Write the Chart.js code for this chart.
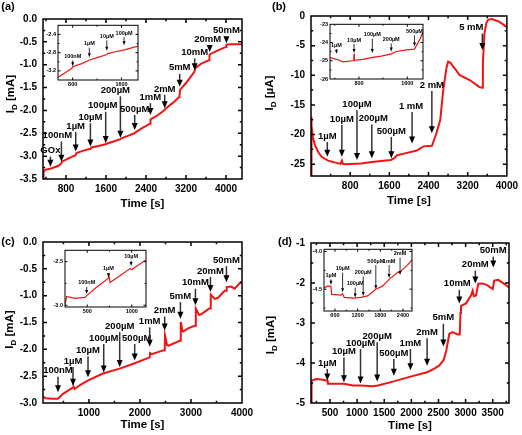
<!DOCTYPE html>
<html>
<head>
<meta charset="utf-8">
<script src="https://cdn.jsdelivr.net/npm/chart.js@4.4.1/dist/chart.umd.min.js"></script>
<style>
  body { margin: 0; background: #fff; overflow: hidden; }
  #wrap { position: relative; width: 522px; height: 435px; background: #fff; }
  canvas { position: absolute; }
</style>
</head>
<body>
<div id="wrap"></div>
<script>
// ---------- Data ----------
// (a) main trace, current in mA vs time in s
const aTime = [340,350,380,500,650,700,720,850,990,1010,1150,1290,1310,1450,1590,1610,1750,1890,1910,2050,2170,2190,2330,2480,2490,2500,2640,2770,2790,2930,3060,3070,3080,3200,3370,3380,3500,3660,3670,3680,3850,4000,4010,4100,4320];
const aCurrent = [-3.48,-3.35,-3.3,-3.27,-3.21,-3.17,-3.12,-3.05,-2.98,-2.93,-2.88,-2.84,-2.81,-2.78,-2.74,-2.73,-2.68,-2.63,-2.61,-2.55,-2.50,-2.48,-2.38,-2.29,-2.20,-2.19,-2.10,-1.99,-1.96,-1.84,-1.71,-1.68,-1.55,-1.40,-1.15,-1.08,-0.98,-0.90,-0.80,-0.77,-0.68,-0.61,-0.56,-0.55,-0.55];
const aArrowTime = [488,708,994,1288,1594,1888,2174,2488,2774,3074,3374,3674,4008];
const aArrowTip = [-3.23,-3.12,-2.90,-2.79,-2.71,-2.60,-2.43,-2.10,-1.95,-1.48,-1.12,-0.72,-0.53];
const aArrowTop = [-3.01,-2.68,-2.47,-2.28,-2.03,-1.69,-2.10,-1.84,-1.66,-1.20,-0.86,-0.57,-0.39];
const aArrowLabel = ['GOx','100nM','1µM','10µM','100µM','200µM','500µM','1mM','2mM','5mM','10mM','20mM','50mM'];
const aXTicks = [800,1600,2400,3200,4000];
const aYTicks = [0,-0.5,-1,-1.5,-2,-2.5,-3,-3.5];
// (a) inset
const aInTime = [565,700,784,800,950,1076,1200,1362,1370,1500,1645,1882];
const aInCurrent = [-3.34,-3.22,-3.15,-3.11,-3.04,-2.96,-2.91,-2.84,-2.82,-2.78,-2.74,-2.65];
const aInArrowTime = [801,1073,1359,1642];
const aInArrowTip = [-3.10,-2.90,-2.76,-2.64];
const aInArrowTop = [-2.97,-2.69,-2.53,-2.46];
const aInArrowLabel = ['100nM','1µM','10µM','100µM'];
const aInXTicks = [800,1600];
const aInYTicks = [-2.4,-2.8,-3.2];

// (b) main trace, current in µA
const bTime = [0,5,15,40,80,150,220,350,480,600,630,650,700,1020,1290,1630,1700,1760,1960,2160,2300,2470,2530,2560,2640,2700,2770,2800,2850,2910,3040,3240,3440,3498,3510,3540,3580,3620,3700,3850,4000];
const bCurrent = [-27,-17,-18.5,-20.5,-21.8,-23,-23.8,-24.4,-24.7,-24.95,-24.4,-24.95,-25.0,-24.9,-24.6,-24.3,-24.0,-23.5,-23.1,-22.7,-22.0,-21.9,-20.5,-19.8,-17.5,-12.5,-8.6,-7.7,-7.9,-8.6,-10.0,-10.8,-12.0,-12.1,-8,-3,-1.2,-0.6,-0.5,-1.0,-1.9];
const bArrowTime = [333,630,939,1242,1640,2064,2468,3499];
const bArrowTip = [-23.74,-23.74,-24.3,-24.0,-24.0,-21.5,-19.8,-5.74];
const bArrowTop = [-21.26,-18.4,-15.9,-18.3,-20.4,-16.2,-12.66,-2.99];
const bArrowLabel = ['1µM','10µM','100µM','200µM','500µM','1 mM','2 mM','5 mM'];
const bXTicks = [800,1600,2400,3200,4000];
const bYTicks = [0,-5,-10,-15,-20,-25];
// (b) inset
const bInTime = [320,427,536,701,712,718,724,866,1005,1170,1335,1418,1582,1719,1801,1860];
const bInCurrent = [-24.83,-24.92,-25.06,-25.0,-24.98,-24.62,-24.98,-24.92,-24.83,-24.75,-24.62,-24.49,-24.40,-24.36,-23.87,-23.45];
const bInArrowTime = [427,718,1021,1334,1719];
const bInArrowTip = [-24.61,-24.57,-24.57,-24.49,-24.22];
const bInArrowTop = [-24.36,-24.08,-23.79,-24.05,-23.61];
const bInArrowLabel = ['1µM','10µM','100µM','200µM','500µM'];
const bInXTicks = [800,1600];
const bInYTicks = [-23,-24,-25,-26];

// (c) main trace, mA
const cTime = [100,150,296,394,492,688,700,720,819,982,1276,1603,1897,2191,2200,2230,2453,2485,2492,2530,2560,2779,2793,2800,2830,2845,2943,3073,3087,3095,3160,3226,3357,3381,3388,3465,3530,3661,3695,3700,3790,3855,3953,4000];
const cCurrent = [-2.88,-2.91,-2.92,-2.92,-2.83,-2.71,-2.70,-2.74,-2.67,-2.58,-2.45,-2.36,-2.26,-2.15,-2.07,-2.09,-2.02,-2.02,-1.74,-1.92,-1.93,-1.84,-1.84,-1.49,-1.64,-1.67,-1.61,-1.56,-1.56,-1.24,-1.36,-1.33,-1.24,-1.24,-0.98,-1.06,-1.04,-0.91,-0.91,-0.84,-0.83,-0.87,-0.77,-0.75];
const cArrowTime = [394,688,982,1290,1603,1897,2191,2485,2793,3087,3381,3695];
const cArrowTip = [-2.80,-2.68,-2.52,-2.43,-2.33,-2.21,-1.95,-1.65,-1.43,-1.18,-0.93,-0.75];
const cArrowTop = [-2.51,-2.33,-2.13,-1.90,-1.68,-1.90,-1.59,-1.39,-1.12,-0.87,-0.65,-0.45];
const cArrowLabel = ['100nM','1µM','10µM','100µM','200µM','500µM','1mM','2mM','5mM','10mM','20mM','50mM'];
const cXTicks = [1000,2000,3000,4000];
const cYTicks = [0,-0.5,-1,-1.5,-2,-2.5,-3];
// (c) inset
const cInTime = [250,269,363,475,494,607,738,745,757,869,982,1001,1160];
const cInCurrent = [-2.99,-2.90,-2.92,-2.91,-2.89,-2.79,-2.69,-2.66,-2.74,-2.66,-2.58,-2.59,-2.48];
const cInArrowTime = [494,738,993];
const cInArrowTip = [-2.87,-2.68,-2.55];
const cInArrowTop = [-2.79,-2.63,-2.49];
const cInArrowLabel = ['100nM','1µM','10µM'];
const cInXTicks = [500,1000];
const cInYTicks = [-2.5,-3.0];

// (d) main trace, mA
const dTime = [150,152,168,247,370,450,460,616,757,923,1063,1291,1383,1677,1983,2290,2424,2517,2597,2645,2700,2762,2855,2892,2905,2915,3008,3100,3131,3150,3191,3234,3314,3406,3499,3528,3601,3712,3800];
const dCurrent = [-4.98,-4.6,-4.44,-4.40,-4.42,-4.44,-4.52,-4.52,-4.52,-4.56,-4.56,-4.58,-4.56,-4.46,-4.34,-4.23,-4.14,-4.06,-3.92,-3.68,-3.27,-3.23,-3.29,-3.29,-2.75,-2.57,-2.51,-2.31,-2.19,-2.33,-2.31,-2.02,-2.01,-2.06,-2.15,-1.94,-1.92,-2.02,-2.11];
const dArrowTime = [450,757,1063,1370,1677,1983,2290,2590,2884,3179,3510];
const dArrowTip = [-4.44,-4.48,-4.51,-4.46,-4.32,-4.18,-4.07,-3.59,-2.51,-2.01,-1.61];
const dArrowTop = [-4.15,-3.86,-3.65,-3.48,-3.90,-3.65,-3.38,-3.02,-2.17,-1.69,-1.34];
const dArrowLabel = ['1µM','10µM','100µM','200µM','500µM','1mM','2mM','5mM','10mM','20mM','50mM'];
const dXTicks = [500,1000,1500,2000,2500,3000,3500];
const dYTicks = [-1,-2,-3,-4,-5];
// (d) inset
const dInTime = [310,407,494,513,758,803,846,1100,1286,1463,1682,1859,2034,2255,2342,2518,2640];
const dInCurrent = [-4.48,-4.46,-4.46,-4.57,-4.58,-4.56,-4.61,-4.62,-4.61,-4.59,-4.50,-4.46,-4.37,-4.28,-4.26,-4.18,-4.11];
const dInArrowTime = [494,803,1136,1348,1682,2034,2324];
const dInArrowTip = [-4.44,-4.54,-4.61,-4.59,-4.50,-4.35,-4.31];
const dInArrowTop = [-4.37,-4.28,-4.48,-4.33,-4.18,-4.18,-4.08];
const dInArrowLabel = ['1µM','10µM','100µM','200µM','500µM','1mM','2mM'];
const dInXTicks = [600,1200,1800,2400];
const dInYTicks = [-4.0,-4.5];

// ---------- Style ----------
const FONT = "'Liberation Sans', Arial, sans-serif";
const RED = '#f01414';
const wrap = document.getElementById('wrap');

// majors plus half-step minors, within the axis range
function tickMarks(majors, min, max) {
  const s = Math.abs(majors[1] - majors[0]) / 2;
  const out = [];
  let v = Math.min(...majors);
  while (v - s >= min - 1e-9) v -= s;
  for (; v <= max + 1e-9; v += s) {
    out.push({ v, major: majors.some(m => Math.abs(m - v) < s * 0.01) });
  }
  return out;
}

function drawArrow(ctx, x, yTop, yTip, headW, headL) {
  ctx.beginPath();
  ctx.moveTo(x, yTop);
  ctx.lineTo(x, yTip - headL + 1);
  ctx.stroke();
  ctx.beginPath();
  ctx.moveTo(x - headW / 2, yTip - headL);
  ctx.lineTo(x + headW / 2, yTip - headL);
  ctx.lineTo(x, yTip);
  ctx.closePath();
  ctx.fill();
}

// frame, inward ticks, arrows + labels, titles
function overlay(p) {
  return {
    id: 'overlay',
    afterDraw(chart) {
      const { ctx, chartArea: a } = chart;
      const x = chart.scales.x, y = chart.scales.y;
      ctx.save();
      ctx.strokeStyle = '#000';
      ctx.lineWidth = p.frameW;
      ctx.strokeRect(a.left, a.top, a.right - a.left, a.bottom - a.top);

      tickMarks(p.xTicks, p.xMin, p.xMax).forEach(t => {
        const px = x.getPixelForValue(t.v);
        if (px < a.left + 1 || px > a.right - 1) return;
        const len = t.major ? p.tickL : p.tickL * 0.55;
        ctx.beginPath();
        ctx.moveTo(px, a.bottom); ctx.lineTo(px, a.bottom - len);
        ctx.moveTo(px, a.top); ctx.lineTo(px, a.top + len);
        ctx.stroke();
      });
      tickMarks(p.yTicks, p.yMin, p.yMax).forEach(t => {
        const py = y.getPixelForValue(t.v);
        if (py < a.top + 1 || py > a.bottom - 1) return;
        const len = t.major ? p.tickL : p.tickL * 0.55;
        ctx.beginPath();
        ctx.moveTo(a.left, py); ctx.lineTo(a.left + len, py);
        ctx.moveTo(a.right, py); ctx.lineTo(a.right - len, py);
        ctx.stroke();
      });

      // arrows
      ctx.strokeStyle = '#333';
      ctx.fillStyle = '#000';
      ctx.lineWidth = p.arrowW;
      ctx.font = `bold ${p.labelSize}px ${FONT}`;
      ctx.textAlign = 'center';
      ctx.textBaseline = 'middle';
      p.arrowTime.forEach((t, i) => {
        const px = x.getPixelForValue(t);
        const yTop = y.getPixelForValue(p.arrowTop[i]);
        const yTip = y.getPixelForValue(p.arrowTip[i]);
        drawArrow(ctx, px, yTop, yTip, p.headW, p.headL);
        const lab = p.arrowLabel[i];
        ctx.fillText(lab, px + ((p.shift || {})[lab] || 0), yTop - p.labelGap);
      });

      if (p.letter) {
        ctx.font = `bold 11px ${FONT}`;
        ctx.textAlign = 'center';
        ctx.fillText(p.letter[0], p.letter[1], p.letter[2]);

        // x title
        ctx.font = `bold 11.5px ${FONT}`;
        ctx.fillText('Time [s]', (a.left + a.right) / 2, a.bottom + p.xTitleGap);

        // y title with subscript, rotated
        const cy = (a.top + a.bottom) / 2 + p.yTitleDy;
        ctx.translate(p.yTitleX, cy);
        ctx.rotate(-Math.PI / 2);
        const big = `bold 11.5px ${FONT}`, small = `bold 8px ${FONT}`;
        const rest = ' [' + p.unit + ']';
        ctx.font = big; const w1 = ctx.measureText('I').width, w3 = ctx.measureText(rest).width;
        ctx.font = small; const w2 = ctx.measureText('D').width;
        let cx = -(w1 + w2 + w3) / 2;
        ctx.textAlign = 'left';
        ctx.font = big; ctx.fillText('I', cx, 0); cx += w1;
        ctx.font = small; ctx.fillText('D', cx, 3.5); cx += w2;
        ctx.font = big; ctx.fillText(rest, cx, 0);
      }
      ctx.restore();
    }
  };
}

function makeChart(p) {
  const cv = document.createElement('canvas');
  const [l, t, w, h] = p.box;
  cv.width = w; cv.height = h;
  cv.style.left = l + 'px'; cv.style.top = t + 'px';
  cv.style.width = w + 'px'; cv.style.height = h + 'px';
  wrap.appendChild(cv);
  const pts = p.time.map((tt, i) => ({ x: tt, y: p.current[i] }));
  const tickFont = { family: FONT, weight: 'bold', size: p.tickSize };
  return new Chart(cv, {
    type: 'line',
    data: { datasets: [{ data: pts, borderColor: RED, borderWidth: p.lineW, pointRadius: 0, tension: 0, fill: false }] },
    options: {
      responsive: false,
      animation: false,
      devicePixelRatio: 1,
      layout: { padding: { left: 0, top: p.pt, right: p.pr, bottom: 0 } },
      plugins: { legend: { display: false }, tooltip: { enabled: false } },
      scales: {
        x: {
          type: 'linear', min: p.xMin, max: p.xMax,
          grid: { display: false, drawTicks: false },
          border: { display: false },
          ticks: { font: tickFont, color: '#000', padding: p.xPad, maxRotation: 0, autoSkip: false,
                   callback: v => String(v) },
          afterBuildTicks: s => { s.ticks = p.xTicks.map(v => ({ value: v })); },
          afterFit: s => { s.height = p.xh; }
        },
        y: {
          type: 'linear', min: p.yMin, max: p.yMax,
          grid: { display: false, drawTicks: false },
          border: { display: false },
          ticks: { font: tickFont, color: '#000', padding: p.yPad, autoSkip: false,
                   callback: v => p.fmt(v) },
          afterBuildTicks: s => { s.ticks = p.yTicks.map(v => ({ value: v })); },
          afterFit: s => { s.width = p.yw; }
        }
      }
    },
    plugins: [overlay(p)]
  });
}

const main = { frameW: 1.5, tickL: 4, arrowW: 1.5, headW: 6, headL: 7, labelSize: 9.5, labelGap: 6,
               lineW: 2, tickSize: 10, xPad: 4, yPad: 6 };
const inset = { frameW: 1, tickL: 2.5, arrowW: 1, headW: 3, headL: 4, labelSize: 5.5, labelGap: 4,
                lineW: 1.2, tickSize: 5.5, xPad: 1.5, yPad: 2 };
const fix1 = v => v.toFixed(1);
const fix0 = v => String(Math.round(v));

// ---------- Panels ----------
makeChart(Object.assign({}, main, {
  box: [0, 0, 261, 217], yw: 43, xh: 38, pt: 19, pr: 19,
  time: aTime, current: aCurrent, xMin: 340, xMax: 4320, yMin: -3.5, yMax: 0,
  xTicks: aXTicks, yTicks: aYTicks, fmt: fix1,
  arrowTime: aArrowTime, arrowTip: aArrowTip, arrowTop: aArrowTop, arrowLabel: aArrowLabel,
  shift: { '100nM': -4, '200µM': -5, '100µM': -3, '20mM': -2 },
  letter: ['(a)', 8, 7], xTitleGap: 25, yTitleX: 11, yTitleDy: -5, unit: 'mA'
}));
makeChart(Object.assign({}, inset, {
  box: [44, 20, 100, 70], yw: 14, xh: 10, pt: 4, pr: 6,
  time: aInTime, current: aInCurrent, xMin: 560, xMax: 1870, yMin: -3.4, yMax: -2.2,
  xTicks: aInXTicks, yTicks: aInYTicks, fmt: fix1,
  arrowTime: aInArrowTime, arrowTip: aInArrowTip, arrowTop: aInArrowTop, arrowLabel: aInArrowLabel
}));

makeChart(Object.assign({}, main, {
  box: [261, 0, 261, 217], yw: 50, xh: 41, pt: 16, pr: 13,
  time: bTime, current: bCurrent, xMin: 0, xMax: 4000, yMin: -27, yMax: 0,
  xTicks: bXTicks, yTicks: bYTicks, fmt: fix0,
  arrowTime: bArrowTime, arrowTip: bArrowTip, arrowTop: bArrowTop, arrowLabel: bArrowLabel,
  shift: { '5 mM': -11, '1 mM': -1, '200µM': 1.5 },
  letter: ['(b)', 18, 7], xTitleGap: 25, yTitleX: 9, yTitleDy: -3, unit: 'µA'
}));
makeChart(Object.assign({}, inset, {
  box: [314, 19, 115, 70], yw: 16, xh: 10, pt: 4, pr: 6,
  time: bInTime, current: bInCurrent, xMin: 320, xMax: 1860, yMin: -26, yMax: -23,
  xTicks: bInXTicks, yTicks: bInYTicks, fmt: fix0,
  arrowTime: bInArrowTime, arrowTip: bInArrowTip, arrowTop: bInArrowTop, arrowLabel: bInArrowLabel
}));

makeChart(Object.assign({}, main, {
  box: [0, 217, 261, 218], yw: 43, xh: 32, pt: 25, pr: 19,
  time: cTime, current: cCurrent, xMin: 100, xMax: 4000, yMin: -3, yMax: 0,
  xTicks: cXTicks, yTicks: cYTicks, fmt: fix1,
  arrowTime: cArrowTime, arrowTip: cArrowTip, arrowTop: cArrowTop, arrowLabel: cArrowLabel,
  shift: { '500µM': 2 },
  letter: ['(c)', 8, 25], xTitleGap: 22, yTitleX: 10, yTitleDy: 7, unit: 'mA'
}));
makeChart(Object.assign({}, inset, {
  box: [49, 245, 103, 72], yw: 16, xh: 10, pt: 4, pr: 6,
  time: cInTime, current: cInCurrent, xMin: 250, xMax: 1160, yMin: -3.02, yMax: -2.37,
  xTicks: cInXTicks, yTicks: cInYTicks, fmt: fix1,
  arrowTime: cInArrowTime, arrowTip: cInArrowTip, arrowTop: cInArrowTop, arrowLabel: cInArrowLabel
}));

makeChart(Object.assign({}, main, {
  box: [261, 217, 261, 218], yw: 50, xh: 32, pt: 26, pr: 13,
  time: dTime, current: dCurrent, xMin: 150, xMax: 3800, yMin: -5, yMax: -1,
  xTicks: dXTicks, yTicks: dYTicks, fmt: fix0,
  arrowTime: dArrowTime, arrowTip: dArrowTip, arrowTop: dArrowTop, arrowLabel: dArrowLabel,
  shift: { '10mM': -2 },
  letter: ['(d)', 24, 25], xTitleGap: 23, yTitleX: 10, yTitleDy: 12, unit: 'mA'
}));
makeChart(Object.assign({}, inset, {
  box: [311, 244, 107, 77], yw: 13, xh: 10, pt: 4, pr: 6,
  time: dInTime, current: dInCurrent, xMin: 310, xMax: 2640, yMin: -4.79, yMax: -3.97,
  xTicks: dInXTicks, yTicks: dInYTicks, fmt: fix1,
  arrowTime: dInArrowTime, arrowTip: dInArrowTip, arrowTop: dInArrowTop, arrowLabel: dInArrowLabel
}));
</script>
</body>
</html>
